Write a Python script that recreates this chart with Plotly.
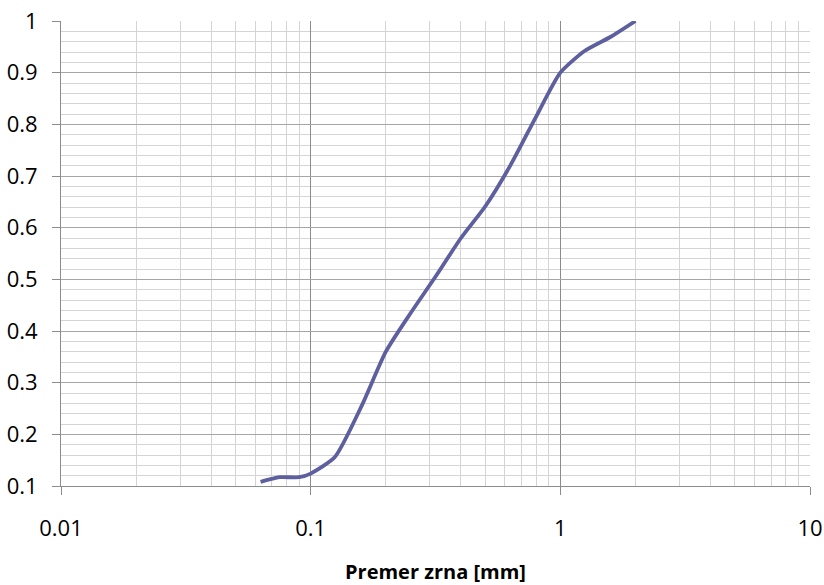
import plotly.graph_objects as go

# Grain size distribution data
diameter_mm = [0.063, 0.075, 0.09, 0.1, 0.125, 0.16, 0.2, 0.25, 0.315, 0.4, 0.5, 0.63, 0.8, 1.0, 1.25, 1.6, 2.0]
passing = [0.108, 0.117, 0.117, 0.124, 0.156, 0.255, 0.360, 0.433, 0.504, 0.580, 0.641, 0.720, 0.815, 0.900, 0.942, 0.970, 1.0]

x_tickvals = [0.01, 0.1, 1, 10]
x_ticktext = ["0.01", "0.1", "1", "10"]
y_tickvals = [0.1, 0.2, 0.3, 0.4, 0.5, 0.6, 0.7, 0.8, 0.9, 1.0]
y_ticktext = ["0.1", "0.2", "0.3", "0.4", "0.5", "0.6", "0.7", "0.8", "0.9", "1"]
x_title = "Premer zrna [mm]"

x_minor = [m * d for d in (0.01, 0.1, 1) for m in range(2, 10)]

fig = go.Figure()
fig.add_trace(go.Scatter(
    x=diameter_mm, y=passing, mode="lines",
    line=dict(color="#5D5F9F", width=3.8, shape="spline", smoothing=0.6),
    showlegend=False, hoverinfo="x+y",
))

font_family = "Open Sans, Lato, sans-serif"
fig.update_layout(
    width=824, height=585,
    margin=dict(l=61, r=14, t=21, b=99),
    paper_bgcolor="white", plot_bgcolor="white",
    font=dict(family=font_family, size=22, color="#000000"),
    xaxis=dict(
        type="log", range=[-2, 1], automargin=False,
        tickmode="array", tickvals=x_tickvals, ticktext=x_ticktext,
        showgrid=True, gridcolor="#8c8c8c", gridwidth=1,
        minor=dict(tickmode="array", tickvals=x_minor, showgrid=True,
                   gridcolor="#d4d4d4", gridwidth=1, ticks=""),
        showline=True, linecolor="#8c8c8c", linewidth=1,
        ticks="outside", ticklen=8, tickcolor="#8c8c8c",
        ticklabelstandoff=15,
        tickfont=dict(size=22),
        zeroline=False,
        title=dict(text="<b>" + x_title + "</b>", font=dict(size=20), standoff=24),
    ),
    yaxis=dict(
        range=[0.1, 1.0], automargin=False,
        tickmode="array", tickvals=y_tickvals, ticktext=y_ticktext,
        showgrid=True, gridcolor="#a6a6a6", gridwidth=1,
        minor=dict(dtick=0.02, tick0=0.1, showgrid=True, gridcolor="#d4d4d4", gridwidth=1, ticks=""),
        showline=True, linecolor="#8c8c8c", linewidth=1,
        ticks="outside", ticklen=8, tickcolor="#8c8c8c",
        ticklabelstandoff=10,
        tickfont=dict(size=22),
        zeroline=False,
    ),
)

fig.write_html("out.html", config={"displayModeBar": False},
               post_script="document.body.style.margin='0';document.body.style.overflow='hidden';")
